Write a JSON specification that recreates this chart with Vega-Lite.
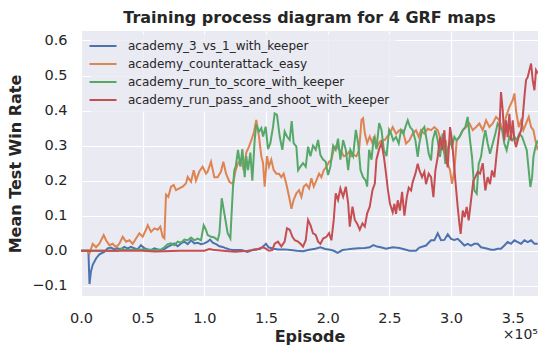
{
  "$schema": "https://vega.github.io/schema/vega-lite/v6.json",
  "width": 457,
  "height": 265,
  "autosize": {"type": "none"},
  "padding": {"left": 81, "top": 31, "right": 10, "bottom": 59},
  "background": "white",
  "config": {
    "font": "DejaVu Sans",
    "view": {"fill": "#EAEAF2", "stroke": null},
    "axis": {"domain": false, "ticks": false, "gridColor": "white", "gridWidth": 1.2, "labelColor": "#262626", "labelFontSize": 14.5, "titleColor": "#262626", "titleFontSize": 16, "titleFontWeight": "bold", "labelFont": "DejaVu Sans", "titleFont": "DejaVu Sans", "labelOverlap": false, "labelFlush": false}
  },
  "title": {"text": "Training process diagram for 4 GRF maps", "fontSize": 16, "fontWeight": "bold", "color": "#262626", "anchor": "middle", "offset": 5, "font": "DejaVu Sans"},
  "layer": [
    {
      "data": {"values": [
        {"map":"academy_3_vs_1_with_keeper","episode":0,"rate":0},{"map":"academy_3_vs_1_with_keeper","episode":6000,"rate":0},{"map":"academy_3_vs_1_with_keeper","episode":6900,"rate":-0.095},{"map":"academy_3_vs_1_with_keeper","episode":8000,"rate":-0.06},{"map":"academy_3_vs_1_with_keeper","episode":9500,"rate":-0.04},{"map":"academy_3_vs_1_with_keeper","episode":12200,"rate":-0.022},{"map":"academy_3_vs_1_with_keeper","episode":14900,"rate":-0.01},{"map":"academy_3_vs_1_with_keeper","episode":18900,"rate":-0.003},{"map":"academy_3_vs_1_with_keeper","episode":21600,"rate":0.007},{"map":"academy_3_vs_1_with_keeper","episode":24300,"rate":0.009},{"map":"academy_3_vs_1_with_keeper","episode":27000,"rate":0.004},{"map":"academy_3_vs_1_with_keeper","episode":29700,"rate":0.007},{"map":"academy_3_vs_1_with_keeper","episode":32400,"rate":0.004},{"map":"academy_3_vs_1_with_keeper","episode":35100,"rate":0.011},{"map":"academy_3_vs_1_with_keeper","episode":37800,"rate":0.007},{"map":"academy_3_vs_1_with_keeper","episode":40500,"rate":0.011},{"map":"academy_3_vs_1_with_keeper","episode":43200,"rate":0.007},{"map":"academy_3_vs_1_with_keeper","episode":45900,"rate":0.004},{"map":"academy_3_vs_1_with_keeper","episode":48600,"rate":0.016},{"map":"academy_3_vs_1_with_keeper","episode":51400,"rate":0.007},{"map":"academy_3_vs_1_with_keeper","episode":54100,"rate":0.004},{"map":"academy_3_vs_1_with_keeper","episode":56800,"rate":0.002},{"map":"academy_3_vs_1_with_keeper","episode":59500,"rate":0.007},{"map":"academy_3_vs_1_with_keeper","episode":62200,"rate":0.004},{"map":"academy_3_vs_1_with_keeper","episode":64900,"rate":0.002},{"map":"academy_3_vs_1_with_keeper","episode":67600,"rate":0.005},{"map":"academy_3_vs_1_with_keeper","episode":70300,"rate":0.011},{"map":"academy_3_vs_1_with_keeper","episode":73000,"rate":0.016},{"map":"academy_3_vs_1_with_keeper","episode":75700,"rate":0.021},{"map":"academy_3_vs_1_with_keeper","episode":78400,"rate":0.013},{"map":"academy_3_vs_1_with_keeper","episode":81100,"rate":0.021},{"map":"academy_3_vs_1_with_keeper","episode":83800,"rate":0.026},{"map":"academy_3_vs_1_with_keeper","episode":86500,"rate":0.019},{"map":"academy_3_vs_1_with_keeper","episode":89200,"rate":0.03},{"map":"academy_3_vs_1_with_keeper","episode":91900,"rate":0.021},{"map":"academy_3_vs_1_with_keeper","episode":94600,"rate":0.023},{"map":"academy_3_vs_1_with_keeper","episode":97300,"rate":0.019},{"map":"academy_3_vs_1_with_keeper","episode":100000,"rate":0.021},{"map":"academy_3_vs_1_with_keeper","episode":102700,"rate":0.026},{"map":"academy_3_vs_1_with_keeper","episode":104600,"rate":0.032},{"map":"academy_3_vs_1_with_keeper","episode":106800,"rate":0.023},{"map":"academy_3_vs_1_with_keeper","episode":109500,"rate":0.019},{"map":"academy_3_vs_1_with_keeper","episode":112200,"rate":0.013},{"map":"academy_3_vs_1_with_keeper","episode":114900,"rate":0.011},{"map":"academy_3_vs_1_with_keeper","episode":117600,"rate":0.007},{"map":"academy_3_vs_1_with_keeper","episode":120300,"rate":0.004},{"map":"academy_3_vs_1_with_keeper","episode":123000,"rate":0.002},{"map":"academy_3_vs_1_with_keeper","episode":125700,"rate":0.002},{"map":"academy_3_vs_1_with_keeper","episode":130000,"rate":0.002},{"map":"academy_3_vs_1_with_keeper","episode":135000,"rate":-0.003},{"map":"academy_3_vs_1_with_keeper","episode":140000,"rate":0.004},{"map":"academy_3_vs_1_with_keeper","episode":145000,"rate":0.005},{"map":"academy_3_vs_1_with_keeper","episode":147000,"rate":0.01},{"map":"academy_3_vs_1_with_keeper","episode":150000,"rate":0.02},{"map":"academy_3_vs_1_with_keeper","episode":152000,"rate":0.01},{"map":"academy_3_vs_1_with_keeper","episode":156000,"rate":0.006},{"map":"academy_3_vs_1_with_keeper","episode":160000,"rate":0.004},{"map":"academy_3_vs_1_with_keeper","episode":165000,"rate":0.004},{"map":"academy_3_vs_1_with_keeper","episode":170000,"rate":0.002},{"map":"academy_3_vs_1_with_keeper","episode":175000,"rate":0},{"map":"academy_3_vs_1_with_keeper","episode":180000,"rate":-0.001},{"map":"academy_3_vs_1_with_keeper","episode":185000,"rate":0.003},{"map":"academy_3_vs_1_with_keeper","episode":190000,"rate":0.006},{"map":"academy_3_vs_1_with_keeper","episode":194000,"rate":0.01},{"map":"academy_3_vs_1_with_keeper","episode":198000,"rate":0.005},{"map":"academy_3_vs_1_with_keeper","episode":202000,"rate":0.003},{"map":"academy_3_vs_1_with_keeper","episode":205000,"rate":0},{"map":"academy_3_vs_1_with_keeper","episode":208000,"rate":-0.006},{"map":"academy_3_vs_1_with_keeper","episode":212000,"rate":0.002},{"map":"academy_3_vs_1_with_keeper","episode":216000,"rate":0.004},{"map":"academy_3_vs_1_with_keeper","episode":220000,"rate":0.006},{"map":"academy_3_vs_1_with_keeper","episode":225000,"rate":0.007},{"map":"academy_3_vs_1_with_keeper","episode":230000,"rate":0.008},{"map":"academy_3_vs_1_with_keeper","episode":234000,"rate":0.01},{"map":"academy_3_vs_1_with_keeper","episode":237000,"rate":0.016},{"map":"academy_3_vs_1_with_keeper","episode":240000,"rate":0.012},{"map":"academy_3_vs_1_with_keeper","episode":243000,"rate":0.01},{"map":"academy_3_vs_1_with_keeper","episode":247300,"rate":0.006},{"map":"academy_3_vs_1_with_keeper","episode":252700,"rate":0.01},{"map":"academy_3_vs_1_with_keeper","episode":258100,"rate":0.008},{"map":"academy_3_vs_1_with_keeper","episode":263500,"rate":0.003},{"map":"academy_3_vs_1_with_keeper","episode":266200,"rate":0},{"map":"academy_3_vs_1_with_keeper","episode":271600,"rate":0},{"map":"academy_3_vs_1_with_keeper","episode":274300,"rate":0.009},{"map":"academy_3_vs_1_with_keeper","episode":279700,"rate":0.015},{"map":"academy_3_vs_1_with_keeper","episode":283800,"rate":0.03},{"map":"academy_3_vs_1_with_keeper","episode":286500,"rate":0.03},{"map":"academy_3_vs_1_with_keeper","episode":289200,"rate":0.05},{"map":"academy_3_vs_1_with_keeper","episode":291900,"rate":0.03},{"map":"academy_3_vs_1_with_keeper","episode":294600,"rate":0.031},{"map":"academy_3_vs_1_with_keeper","episode":297300,"rate":0.047},{"map":"academy_3_vs_1_with_keeper","episode":300000,"rate":0.034},{"map":"academy_3_vs_1_with_keeper","episode":302700,"rate":0.031},{"map":"academy_3_vs_1_with_keeper","episode":305400,"rate":0.034},{"map":"academy_3_vs_1_with_keeper","episode":308100,"rate":0.025},{"map":"academy_3_vs_1_with_keeper","episode":310800,"rate":0.015},{"map":"academy_3_vs_1_with_keeper","episode":313500,"rate":0.02},{"map":"academy_3_vs_1_with_keeper","episode":316200,"rate":0.015},{"map":"academy_3_vs_1_with_keeper","episode":318900,"rate":0.02},{"map":"academy_3_vs_1_with_keeper","episode":321600,"rate":0.02},{"map":"academy_3_vs_1_with_keeper","episode":324300,"rate":0.01},{"map":"academy_3_vs_1_with_keeper","episode":327000,"rate":0.008},{"map":"academy_3_vs_1_with_keeper","episode":329700,"rate":0.006},{"map":"academy_3_vs_1_with_keeper","episode":332400,"rate":0.003},{"map":"academy_3_vs_1_with_keeper","episode":335100,"rate":0.003},{"map":"academy_3_vs_1_with_keeper","episode":337800,"rate":0.006},{"map":"academy_3_vs_1_with_keeper","episode":340500,"rate":0.006},{"map":"academy_3_vs_1_with_keeper","episode":343200,"rate":0.015},{"map":"academy_3_vs_1_with_keeper","episode":345900,"rate":0.025},{"map":"academy_3_vs_1_with_keeper","episode":348600,"rate":0.02},{"map":"academy_3_vs_1_with_keeper","episode":351400,"rate":0.03},{"map":"academy_3_vs_1_with_keeper","episode":354100,"rate":0.025},{"map":"academy_3_vs_1_with_keeper","episode":356800,"rate":0.02},{"map":"academy_3_vs_1_with_keeper","episode":359500,"rate":0.03},{"map":"academy_3_vs_1_with_keeper","episode":362200,"rate":0.025},{"map":"academy_3_vs_1_with_keeper","episode":364900,"rate":0.03},{"map":"academy_3_vs_1_with_keeper","episode":367600,"rate":0.02},{"map":"academy_3_vs_1_with_keeper","episode":370300,"rate":0.02},

        {"map":"academy_counterattack_easy","episode":0,"rate":0},{"map":"academy_counterattack_easy","episode":5400,"rate":0},{"map":"academy_counterattack_easy","episode":6800,"rate":-0.008},{"map":"academy_counterattack_easy","episode":9500,"rate":0.02},{"map":"academy_counterattack_easy","episode":12200,"rate":0.01},{"map":"academy_counterattack_easy","episode":14900,"rate":0.02},{"map":"academy_counterattack_easy","episode":18400,"rate":0.045},{"map":"academy_counterattack_easy","episode":20300,"rate":0.03},{"map":"academy_counterattack_easy","episode":23000,"rate":0.016},{"map":"academy_counterattack_easy","episode":25700,"rate":0.02},{"map":"academy_counterattack_easy","episode":28400,"rate":0.01},{"map":"academy_counterattack_easy","episode":31100,"rate":0.02},{"map":"academy_counterattack_easy","episode":33800,"rate":0.04},{"map":"academy_counterattack_easy","episode":36500,"rate":0.026},{"map":"academy_counterattack_easy","episode":39200,"rate":0.03},{"map":"academy_counterattack_easy","episode":41900,"rate":0.02},{"map":"academy_counterattack_easy","episode":44600,"rate":0.035},{"map":"academy_counterattack_easy","episode":47300,"rate":0.05},{"map":"academy_counterattack_easy","episode":50000,"rate":0.04},{"map":"academy_counterattack_easy","episode":52700,"rate":0.06},{"map":"academy_counterattack_easy","episode":54100,"rate":0.073},{"map":"academy_counterattack_easy","episode":56800,"rate":0.054},{"map":"academy_counterattack_easy","episode":59500,"rate":0.064},{"map":"academy_counterattack_easy","episode":62200,"rate":0.06},{"map":"academy_counterattack_easy","episode":64300,"rate":0.069},{"map":"academy_counterattack_easy","episode":66200,"rate":0.04},{"map":"academy_counterattack_easy","episode":67600,"rate":0.035},{"map":"academy_counterattack_easy","episode":68900,"rate":0.16},{"map":"academy_counterattack_easy","episode":70800,"rate":0.154},{"map":"academy_counterattack_easy","episode":73000,"rate":0.183},{"map":"academy_counterattack_easy","episode":75100,"rate":0.188},{"map":"academy_counterattack_easy","episode":77000,"rate":0.173},{"map":"academy_counterattack_easy","episode":79700,"rate":0.178},{"map":"academy_counterattack_easy","episode":82400,"rate":0.183},{"map":"academy_counterattack_easy","episode":85100,"rate":0.192},{"map":"academy_counterattack_easy","episode":86500,"rate":0.211},{"map":"academy_counterattack_easy","episode":89200,"rate":0.197},{"map":"academy_counterattack_easy","episode":91400,"rate":0.23},{"map":"academy_counterattack_easy","episode":93200,"rate":0.2},{"map":"academy_counterattack_easy","episode":95900,"rate":0.226},{"map":"academy_counterattack_easy","episode":98600,"rate":0.24},{"map":"academy_counterattack_easy","episode":101400,"rate":0.22},{"map":"academy_counterattack_easy","episode":102700,"rate":0.226},{"map":"academy_counterattack_easy","episode":105400,"rate":0.254},{"map":"academy_counterattack_easy","episode":108100,"rate":0.21},{"map":"academy_counterattack_easy","episode":110800,"rate":0.21},{"map":"academy_counterattack_easy","episode":113500,"rate":0.226},{"map":"academy_counterattack_easy","episode":115400,"rate":0.254},{"map":"academy_counterattack_easy","episode":117600,"rate":0.22},{"map":"academy_counterattack_easy","episode":120300,"rate":0.197},{"map":"academy_counterattack_easy","episode":123200,"rate":0.19},{"map":"academy_counterattack_easy","episode":125400,"rate":0.23},{"map":"academy_counterattack_easy","episode":127300,"rate":0.25},{"map":"academy_counterattack_easy","episode":130000,"rate":0.26},{"map":"academy_counterattack_easy","episode":131900,"rate":0.23},{"map":"academy_counterattack_easy","episode":134000,"rate":0.28},{"map":"academy_counterattack_easy","episode":136200,"rate":0.297},{"map":"academy_counterattack_easy","episode":138100,"rate":0.316},{"map":"academy_counterattack_easy","episode":140000,"rate":0.335},{"map":"academy_counterattack_easy","episode":142100,"rate":0.373},{"map":"academy_counterattack_easy","episode":144300,"rate":0.326},{"map":"academy_counterattack_easy","episode":146200,"rate":0.27},{"map":"academy_counterattack_easy","episode":147600,"rate":0.25},{"map":"academy_counterattack_easy","episode":148900,"rate":0.183},{"map":"academy_counterattack_easy","episode":150800,"rate":0.27},{"map":"academy_counterattack_easy","episode":152400,"rate":0.24},{"map":"academy_counterattack_easy","episode":154300,"rate":0.26},{"map":"academy_counterattack_easy","episode":156200,"rate":0.23},{"map":"academy_counterattack_easy","episode":158400,"rate":0.22},{"map":"academy_counterattack_easy","episode":160500,"rate":0.22},{"map":"academy_counterattack_easy","episode":162400,"rate":0.21},{"map":"academy_counterattack_easy","episode":164300,"rate":0.22},{"map":"academy_counterattack_easy","episode":166500,"rate":0.19},{"map":"academy_counterattack_easy","episode":168700,"rate":0.154},{"map":"academy_counterattack_easy","episode":170600,"rate":0.12},{"map":"academy_counterattack_easy","episode":172400,"rate":0.145},{"map":"academy_counterattack_easy","episode":174600,"rate":0.164},{"map":"academy_counterattack_easy","episode":176800,"rate":0.173},{"map":"academy_counterattack_easy","episode":178700,"rate":0.154},{"map":"academy_counterattack_easy","episode":180600,"rate":0.183},{"map":"academy_counterattack_easy","episode":182700,"rate":0.19},{"map":"academy_counterattack_easy","episode":184900,"rate":0.178},{"map":"academy_counterattack_easy","episode":186800,"rate":0.207},{"map":"academy_counterattack_easy","episode":188700,"rate":0.183},{"map":"academy_counterattack_easy","episode":190800,"rate":0.2},{"map":"academy_counterattack_easy","episode":193000,"rate":0.22},{"map":"academy_counterattack_easy","episode":194900,"rate":0.21},{"map":"academy_counterattack_easy","episode":196800,"rate":0.23},{"map":"academy_counterattack_easy","episode":199000,"rate":0.24},{"map":"academy_counterattack_easy","episode":201100,"rate":0.254},{"map":"academy_counterattack_easy","episode":203000,"rate":0.26},{"map":"academy_counterattack_easy","episode":204900,"rate":0.288},{"map":"academy_counterattack_easy","episode":207100,"rate":0.3},{"map":"academy_counterattack_easy","episode":209200,"rate":0.288},{"map":"academy_counterattack_easy","episode":211100,"rate":0.283},{"map":"academy_counterattack_easy","episode":213000,"rate":0.27},{"map":"academy_counterattack_easy","episode":215200,"rate":0.273},{"map":"academy_counterattack_easy","episode":217400,"rate":0.283},{"map":"academy_counterattack_easy","episode":219300,"rate":0.27},{"map":"academy_counterattack_easy","episode":221200,"rate":0.273},{"map":"academy_counterattack_easy","episode":223300,"rate":0.27},{"map":"academy_counterattack_easy","episode":225500,"rate":0.288},{"map":"academy_counterattack_easy","episode":227400,"rate":0.373},{"map":"academy_counterattack_easy","episode":228700,"rate":0.378},{"map":"academy_counterattack_easy","episode":230100,"rate":0.335},{"map":"academy_counterattack_easy","episode":232000,"rate":0.307},{"map":"academy_counterattack_easy","episode":234100,"rate":0.326},{"map":"academy_counterattack_easy","episode":236300,"rate":0.307},{"map":"academy_counterattack_easy","episode":238200,"rate":0.326},{"map":"academy_counterattack_easy","episode":240100,"rate":0.297},{"map":"academy_counterattack_easy","episode":242300,"rate":0.311},{"map":"academy_counterattack_easy","episode":244400,"rate":0.316},{"map":"academy_counterattack_easy","episode":246300,"rate":0.316},{"map":"academy_counterattack_easy","episode":248200,"rate":0.326},{"map":"academy_counterattack_easy","episode":250400,"rate":0.335},{"map":"academy_counterattack_easy","episode":252700,"rate":0.353},{"map":"academy_counterattack_easy","episode":255400,"rate":0.334},{"map":"academy_counterattack_easy","episode":258100,"rate":0.344},{"map":"academy_counterattack_easy","episode":260800,"rate":0.344},{"map":"academy_counterattack_easy","episode":263500,"rate":0.306},{"map":"academy_counterattack_easy","episode":266200,"rate":0.315},{"map":"academy_counterattack_easy","episode":268900,"rate":0.334},{"map":"academy_counterattack_easy","episode":271600,"rate":0.344},{"map":"academy_counterattack_easy","episode":273800,"rate":0.325},{"map":"academy_counterattack_easy","episode":275700,"rate":0.344},{"map":"academy_counterattack_easy","episode":278400,"rate":0.334},{"map":"academy_counterattack_easy","episode":281100,"rate":0.348},{"map":"academy_counterattack_easy","episode":283800,"rate":0.344},{"map":"academy_counterattack_easy","episode":286500,"rate":0.353},{"map":"academy_counterattack_easy","episode":289200,"rate":0.344},{"map":"academy_counterattack_easy","episode":291900,"rate":0.315},{"map":"academy_counterattack_easy","episode":294600,"rate":0.277},{"map":"academy_counterattack_easy","episode":295900,"rate":0.315},{"map":"academy_counterattack_easy","episode":297300,"rate":0.248},{"map":"academy_counterattack_easy","episode":299200,"rate":0.23},{"map":"academy_counterattack_easy","episode":300800,"rate":0.191},{"map":"academy_counterattack_easy","episode":302700,"rate":0.23},{"map":"academy_counterattack_easy","episode":304600,"rate":0.315},{"map":"academy_counterattack_easy","episode":306800,"rate":0.325},{"map":"academy_counterattack_easy","episode":309500,"rate":0.344},{"map":"academy_counterattack_easy","episode":312200,"rate":0.353},{"map":"academy_counterattack_easy","episode":314900,"rate":0.363},{"map":"academy_counterattack_easy","episode":317600,"rate":0.344},{"map":"academy_counterattack_easy","episode":320300,"rate":0.353},{"map":"academy_counterattack_easy","episode":323000,"rate":0.363},{"map":"academy_counterattack_easy","episode":325700,"rate":0.344},{"map":"academy_counterattack_easy","episode":328400,"rate":0.372},{"map":"academy_counterattack_easy","episode":331100,"rate":0.353},{"map":"academy_counterattack_easy","episode":333800,"rate":0.363},{"map":"academy_counterattack_easy","episode":336500,"rate":0.382},{"map":"academy_counterattack_easy","episode":339200,"rate":0.372},{"map":"academy_counterattack_easy","episode":341900,"rate":0.344},{"map":"academy_counterattack_easy","episode":344600,"rate":0.382},{"map":"academy_counterattack_easy","episode":347300,"rate":0.41},{"map":"academy_counterattack_easy","episode":350000,"rate":0.43},{"map":"academy_counterattack_easy","episode":351400,"rate":0.449},{"map":"academy_counterattack_easy","episode":352700,"rate":0.4},{"map":"academy_counterattack_easy","episode":354900,"rate":0.353},{"map":"academy_counterattack_easy","episode":356800,"rate":0.372},{"map":"academy_counterattack_easy","episode":358600,"rate":0.344},{"map":"academy_counterattack_easy","episode":360800,"rate":0.363},{"map":"academy_counterattack_easy","episode":363000,"rate":0.382},{"map":"academy_counterattack_easy","episode":364900,"rate":0.353},{"map":"academy_counterattack_easy","episode":366800,"rate":0.344},{"map":"academy_counterattack_easy","episode":368400,"rate":0.315},{"map":"academy_counterattack_easy","episode":370300,"rate":0.287},

        {"map":"academy_run_to_score_with_keeper","episode":0,"rate":0},{"map":"academy_run_to_score_with_keeper","episode":30000,"rate":0},{"map":"academy_run_to_score_with_keeper","episode":32400,"rate":0.006},{"map":"academy_run_to_score_with_keeper","episode":36000,"rate":0.002},{"map":"academy_run_to_score_with_keeper","episode":40000,"rate":0.003},{"map":"academy_run_to_score_with_keeper","episode":50000,"rate":0.004},{"map":"academy_run_to_score_with_keeper","episode":60000,"rate":0.002},{"map":"academy_run_to_score_with_keeper","episode":65000,"rate":0.004},{"map":"academy_run_to_score_with_keeper","episode":67600,"rate":0.01},{"map":"academy_run_to_score_with_keeper","episode":70300,"rate":0.019},{"map":"academy_run_to_score_with_keeper","episode":73000,"rate":0.021},{"map":"academy_run_to_score_with_keeper","episode":75700,"rate":0.016},{"map":"academy_run_to_score_with_keeper","episode":78400,"rate":0.026},{"map":"academy_run_to_score_with_keeper","episode":81100,"rate":0.023},{"map":"academy_run_to_score_with_keeper","episode":83800,"rate":0.032},{"map":"academy_run_to_score_with_keeper","episode":86500,"rate":0.03},{"map":"academy_run_to_score_with_keeper","episode":89200,"rate":0.038},{"map":"academy_run_to_score_with_keeper","episode":91900,"rate":0.03},{"map":"academy_run_to_score_with_keeper","episode":94600,"rate":0.035},{"map":"academy_run_to_score_with_keeper","episode":97300,"rate":0.03},{"map":"academy_run_to_score_with_keeper","episode":99500,"rate":0.073},{"map":"academy_run_to_score_with_keeper","episode":101400,"rate":0.059},{"map":"academy_run_to_score_with_keeper","episode":102700,"rate":0.045},{"map":"academy_run_to_score_with_keeper","episode":105400,"rate":0.04},{"map":"academy_run_to_score_with_keeper","episode":108100,"rate":0.038},{"map":"academy_run_to_score_with_keeper","episode":110800,"rate":0.03},{"map":"academy_run_to_score_with_keeper","episode":112200,"rate":0.05},{"map":"academy_run_to_score_with_keeper","episode":114100,"rate":0.15},{"map":"academy_run_to_score_with_keeper","episode":116200,"rate":0.107},{"map":"academy_run_to_score_with_keeper","episode":118900,"rate":0.05},{"map":"academy_run_to_score_with_keeper","episode":121100,"rate":0.035},{"map":"academy_run_to_score_with_keeper","episode":122000,"rate":0.1},{"map":"academy_run_to_score_with_keeper","episode":123200,"rate":0.18},{"map":"academy_run_to_score_with_keeper","episode":124300,"rate":0.23},{"map":"academy_run_to_score_with_keeper","episode":125400,"rate":0.24},{"map":"academy_run_to_score_with_keeper","episode":127300,"rate":0.288},{"map":"academy_run_to_score_with_keeper","episode":129200,"rate":0.24},{"map":"academy_run_to_score_with_keeper","episode":130800,"rate":0.29},{"map":"academy_run_to_score_with_keeper","episode":132700,"rate":0.21},{"map":"academy_run_to_score_with_keeper","episode":134000,"rate":0.27},{"map":"academy_run_to_score_with_keeper","episode":135400,"rate":0.23},{"map":"academy_run_to_score_with_keeper","episode":137300,"rate":0.28},{"map":"academy_run_to_score_with_keeper","episode":138900,"rate":0.2},{"map":"academy_run_to_score_with_keeper","episode":140800,"rate":0.316},{"map":"academy_run_to_score_with_keeper","episode":142100,"rate":0.36},{"map":"academy_run_to_score_with_keeper","episode":144300,"rate":0.34},{"map":"academy_run_to_score_with_keeper","episode":146200,"rate":0.35},{"map":"academy_run_to_score_with_keeper","episode":147600,"rate":0.326},{"map":"academy_run_to_score_with_keeper","episode":149700,"rate":0.354},{"map":"academy_run_to_score_with_keeper","episode":151600,"rate":0.29},{"map":"academy_run_to_score_with_keeper","episode":153500,"rate":0.307},{"map":"academy_run_to_score_with_keeper","episode":155700,"rate":0.354},{"map":"academy_run_to_score_with_keeper","episode":157000,"rate":0.392},{"map":"academy_run_to_score_with_keeper","episode":158900,"rate":0.388},{"map":"academy_run_to_score_with_keeper","episode":161100,"rate":0.326},{"map":"academy_run_to_score_with_keeper","episode":163200,"rate":0.288},{"map":"academy_run_to_score_with_keeper","episode":165100,"rate":0.34},{"map":"academy_run_to_score_with_keeper","episode":167000,"rate":0.326},{"map":"academy_run_to_score_with_keeper","episode":169200,"rate":0.316},{"map":"academy_run_to_score_with_keeper","episode":170800,"rate":0.37},{"map":"academy_run_to_score_with_keeper","episode":172400,"rate":0.307},{"map":"academy_run_to_score_with_keeper","episode":174600,"rate":0.297},{"map":"academy_run_to_score_with_keeper","episode":176000,"rate":0.23},{"map":"academy_run_to_score_with_keeper","episode":177900,"rate":0.24},{"map":"academy_run_to_score_with_keeper","episode":180000,"rate":0.25},{"map":"academy_run_to_score_with_keeper","episode":182200,"rate":0.24},{"map":"academy_run_to_score_with_keeper","episode":184100,"rate":0.297},{"map":"academy_run_to_score_with_keeper","episode":186000,"rate":0.27},{"map":"academy_run_to_score_with_keeper","episode":188100,"rate":0.3},{"map":"academy_run_to_score_with_keeper","episode":190300,"rate":0.288},{"map":"academy_run_to_score_with_keeper","episode":192200,"rate":0.316},{"map":"academy_run_to_score_with_keeper","episode":194100,"rate":0.273},{"map":"academy_run_to_score_with_keeper","episode":196300,"rate":0.26},{"map":"academy_run_to_score_with_keeper","episode":198400,"rate":0.254},{"map":"academy_run_to_score_with_keeper","episode":200300,"rate":0.216},{"map":"academy_run_to_score_with_keeper","episode":202200,"rate":0.24},{"map":"academy_run_to_score_with_keeper","episode":204400,"rate":0.3},{"map":"academy_run_to_score_with_keeper","episode":206500,"rate":0.288},{"map":"academy_run_to_score_with_keeper","episode":208400,"rate":0.32},{"map":"academy_run_to_score_with_keeper","episode":210300,"rate":0.26},{"map":"academy_run_to_score_with_keeper","episode":212500,"rate":0.316},{"map":"academy_run_to_score_with_keeper","episode":214700,"rate":0.288},{"map":"academy_run_to_score_with_keeper","episode":216600,"rate":0.23},{"map":"academy_run_to_score_with_keeper","episode":218400,"rate":0.288},{"map":"academy_run_to_score_with_keeper","episode":220600,"rate":0.27},{"map":"academy_run_to_score_with_keeper","episode":222800,"rate":0.345},{"map":"academy_run_to_score_with_keeper","episode":224700,"rate":0.307},{"map":"academy_run_to_score_with_keeper","episode":226600,"rate":0.23},{"map":"academy_run_to_score_with_keeper","episode":228700,"rate":0.21},{"map":"academy_run_to_score_with_keeper","episode":230900,"rate":0.2},{"map":"academy_run_to_score_with_keeper","episode":232000,"rate":0.183},{"map":"academy_run_to_score_with_keeper","episode":233600,"rate":0.288},{"map":"academy_run_to_score_with_keeper","episode":235500,"rate":0.26},{"map":"academy_run_to_score_with_keeper","episode":237400,"rate":0.326},{"map":"academy_run_to_score_with_keeper","episode":239500,"rate":0.29},{"map":"academy_run_to_score_with_keeper","episode":241700,"rate":0.364},{"map":"academy_run_to_score_with_keeper","episode":243600,"rate":0.345},{"map":"academy_run_to_score_with_keeper","episode":245500,"rate":0.288},{"map":"academy_run_to_score_with_keeper","episode":247700,"rate":0.27},{"map":"academy_run_to_score_with_keeper","episode":249800,"rate":0.345},{"map":"academy_run_to_score_with_keeper","episode":251400,"rate":0.334},{"map":"academy_run_to_score_with_keeper","episode":253200,"rate":0.315},{"map":"academy_run_to_score_with_keeper","episode":255400,"rate":0.325},{"map":"academy_run_to_score_with_keeper","episode":257600,"rate":0.306},{"map":"academy_run_to_score_with_keeper","episode":259500,"rate":0.344},{"map":"academy_run_to_score_with_keeper","episode":261400,"rate":0.334},{"map":"academy_run_to_score_with_keeper","episode":263000,"rate":0.353},{"map":"academy_run_to_score_with_keeper","episode":264900,"rate":0.372},{"map":"academy_run_to_score_with_keeper","episode":266800,"rate":0.353},{"map":"academy_run_to_score_with_keeper","episode":268900,"rate":0.344},{"map":"academy_run_to_score_with_keeper","episode":271100,"rate":0.315},{"map":"academy_run_to_score_with_keeper","episode":273000,"rate":0.268},{"map":"academy_run_to_score_with_keeper","episode":274300,"rate":0.306},{"map":"academy_run_to_score_with_keeper","episode":276500,"rate":0.344},{"map":"academy_run_to_score_with_keeper","episode":278400,"rate":0.353},{"map":"academy_run_to_score_with_keeper","episode":280300,"rate":0.315},{"map":"academy_run_to_score_with_keeper","episode":281900,"rate":0.277},{"map":"academy_run_to_score_with_keeper","episode":283800,"rate":0.258},{"map":"academy_run_to_score_with_keeper","episode":285100,"rate":0.315},{"map":"academy_run_to_score_with_keeper","episode":287300,"rate":0.344},{"map":"academy_run_to_score_with_keeper","episode":289200,"rate":0.315},{"map":"academy_run_to_score_with_keeper","episode":291100,"rate":0.268},{"map":"academy_run_to_score_with_keeper","episode":293200,"rate":0.334},{"map":"academy_run_to_score_with_keeper","episode":295400,"rate":0.248},{"map":"academy_run_to_score_with_keeper","episode":297300,"rate":0.287},{"map":"academy_run_to_score_with_keeper","episode":299200,"rate":0.315},{"map":"academy_run_to_score_with_keeper","episode":300800,"rate":0.296},{"map":"academy_run_to_score_with_keeper","episode":302700,"rate":0.325},{"map":"academy_run_to_score_with_keeper","episode":304600,"rate":0.315},{"map":"academy_run_to_score_with_keeper","episode":306800,"rate":0.325},{"map":"academy_run_to_score_with_keeper","episode":309500,"rate":0.344},{"map":"academy_run_to_score_with_keeper","episode":311600,"rate":0.353},{"map":"academy_run_to_score_with_keeper","episode":313500,"rate":0.382},{"map":"academy_run_to_score_with_keeper","episode":315400,"rate":0.315},{"map":"academy_run_to_score_with_keeper","episode":317000,"rate":0.268},{"map":"academy_run_to_score_with_keeper","episode":318900,"rate":0.172},{"map":"academy_run_to_score_with_keeper","episode":320800,"rate":0.163},{"map":"academy_run_to_score_with_keeper","episode":322400,"rate":0.248},{"map":"academy_run_to_score_with_keeper","episode":324300,"rate":0.268},{"map":"academy_run_to_score_with_keeper","episode":326200,"rate":0.315},{"map":"academy_run_to_score_with_keeper","episode":327800,"rate":0.344},{"map":"academy_run_to_score_with_keeper","episode":329700,"rate":0.306},{"map":"academy_run_to_score_with_keeper","episode":331600,"rate":0.277},{"map":"academy_run_to_score_with_keeper","episode":333800,"rate":0.306},{"map":"academy_run_to_score_with_keeper","episode":335900,"rate":0.334},{"map":"academy_run_to_score_with_keeper","episode":337800,"rate":0.363},{"map":"academy_run_to_score_with_keeper","episode":339700,"rate":0.353},{"map":"academy_run_to_score_with_keeper","episode":341400,"rate":0.344},{"map":"academy_run_to_score_with_keeper","episode":343200,"rate":0.306},{"map":"academy_run_to_score_with_keeper","episode":345100,"rate":0.287},{"map":"academy_run_to_score_with_keeper","episode":347300,"rate":0.325},{"map":"academy_run_to_score_with_keeper","episode":349500,"rate":0.315},{"map":"academy_run_to_score_with_keeper","episode":351400,"rate":0.325},{"map":"academy_run_to_score_with_keeper","episode":353200,"rate":0.315},{"map":"academy_run_to_score_with_keeper","episode":355400,"rate":0.334},{"map":"academy_run_to_score_with_keeper","episode":357600,"rate":0.325},{"map":"academy_run_to_score_with_keeper","episode":359500,"rate":0.306},{"map":"academy_run_to_score_with_keeper","episode":361400,"rate":0.287},{"map":"academy_run_to_score_with_keeper","episode":363000,"rate":0.229},{"map":"academy_run_to_score_with_keeper","episode":364300,"rate":0.182},{"map":"academy_run_to_score_with_keeper","episode":365700,"rate":0.21},{"map":"academy_run_to_score_with_keeper","episode":366800,"rate":0.268},{"map":"academy_run_to_score_with_keeper","episode":368400,"rate":0.296},{"map":"academy_run_to_score_with_keeper","episode":370300,"rate":0.315},

        {"map":"academy_run_pass_and_shoot_with_keeper","episode":0,"rate":0},{"map":"academy_run_pass_and_shoot_with_keeper","episode":20000,"rate":0},{"map":"academy_run_pass_and_shoot_with_keeper","episode":50000,"rate":0},{"map":"academy_run_pass_and_shoot_with_keeper","episode":60000,"rate":-0.002},{"map":"academy_run_pass_and_shoot_with_keeper","episode":80000,"rate":0},{"map":"academy_run_pass_and_shoot_with_keeper","episode":100000,"rate":0},{"map":"academy_run_pass_and_shoot_with_keeper","episode":104000,"rate":0.005},{"map":"academy_run_pass_and_shoot_with_keeper","episode":107000,"rate":0.003},{"map":"academy_run_pass_and_shoot_with_keeper","episode":115000,"rate":0},{"map":"academy_run_pass_and_shoot_with_keeper","episode":125000,"rate":-0.003},{"map":"academy_run_pass_and_shoot_with_keeper","episode":135000,"rate":0},{"map":"academy_run_pass_and_shoot_with_keeper","episode":142000,"rate":0.003},{"map":"academy_run_pass_and_shoot_with_keeper","episode":147000,"rate":0.01},{"map":"academy_run_pass_and_shoot_with_keeper","episode":149600,"rate":0.007},{"map":"academy_run_pass_and_shoot_with_keeper","episode":152300,"rate":0},{"map":"academy_run_pass_and_shoot_with_keeper","episode":155000,"rate":0.002},{"map":"academy_run_pass_and_shoot_with_keeper","episode":157000,"rate":0.02},{"map":"academy_run_pass_and_shoot_with_keeper","episode":159700,"rate":0.026},{"map":"academy_run_pass_and_shoot_with_keeper","episode":162400,"rate":0.012},{"map":"academy_run_pass_and_shoot_with_keeper","episode":165100,"rate":0.026},{"map":"academy_run_pass_and_shoot_with_keeper","episode":167000,"rate":0.064},{"map":"academy_run_pass_and_shoot_with_keeper","episode":169200,"rate":0.06},{"map":"academy_run_pass_and_shoot_with_keeper","episode":171400,"rate":0.04},{"map":"academy_run_pass_and_shoot_with_keeper","episode":173300,"rate":0.03},{"map":"academy_run_pass_and_shoot_with_keeper","episode":176000,"rate":0.026},{"map":"academy_run_pass_and_shoot_with_keeper","episode":177900,"rate":0.02},{"map":"academy_run_pass_and_shoot_with_keeper","episode":180000,"rate":0.012},{"map":"academy_run_pass_and_shoot_with_keeper","episode":182200,"rate":0.03},{"map":"academy_run_pass_and_shoot_with_keeper","episode":184100,"rate":0.088},{"map":"academy_run_pass_and_shoot_with_keeper","episode":186000,"rate":0.073},{"map":"academy_run_pass_and_shoot_with_keeper","episode":188100,"rate":0.05},{"map":"academy_run_pass_and_shoot_with_keeper","episode":190300,"rate":0.045},{"map":"academy_run_pass_and_shoot_with_keeper","episode":192200,"rate":0.026},{"map":"academy_run_pass_and_shoot_with_keeper","episode":194100,"rate":0.02},{"map":"academy_run_pass_and_shoot_with_keeper","episode":196300,"rate":0.035},{"map":"academy_run_pass_and_shoot_with_keeper","episode":199000,"rate":0.04},{"map":"academy_run_pass_and_shoot_with_keeper","episode":201100,"rate":0.05},{"map":"academy_run_pass_and_shoot_with_keeper","episode":203000,"rate":0.03},{"map":"academy_run_pass_and_shoot_with_keeper","episode":204900,"rate":0.088},{"map":"academy_run_pass_and_shoot_with_keeper","episode":206500,"rate":0.164},{"map":"academy_run_pass_and_shoot_with_keeper","episode":208400,"rate":0.145},{"map":"academy_run_pass_and_shoot_with_keeper","episode":210300,"rate":0.178},{"map":"academy_run_pass_and_shoot_with_keeper","episode":212500,"rate":0.154},{"map":"academy_run_pass_and_shoot_with_keeper","episode":214700,"rate":0.183},{"map":"academy_run_pass_and_shoot_with_keeper","episode":216600,"rate":0.135},{"map":"academy_run_pass_and_shoot_with_keeper","episode":217900,"rate":0.069},{"map":"academy_run_pass_and_shoot_with_keeper","episode":220100,"rate":0.126},{"map":"academy_run_pass_and_shoot_with_keeper","episode":222000,"rate":0.088},{"map":"academy_run_pass_and_shoot_with_keeper","episode":223800,"rate":0.078},{"map":"academy_run_pass_and_shoot_with_keeper","episode":226000,"rate":0.06},{"map":"academy_run_pass_and_shoot_with_keeper","episode":228200,"rate":0.078},{"map":"academy_run_pass_and_shoot_with_keeper","episode":230100,"rate":0.069},{"map":"academy_run_pass_and_shoot_with_keeper","episode":232000,"rate":0.107},{"map":"academy_run_pass_and_shoot_with_keeper","episode":234100,"rate":0.126},{"map":"academy_run_pass_and_shoot_with_keeper","episode":236300,"rate":0.173},{"map":"academy_run_pass_and_shoot_with_keeper","episode":238200,"rate":0.192},{"map":"academy_run_pass_and_shoot_with_keeper","episode":239500,"rate":0.26},{"map":"academy_run_pass_and_shoot_with_keeper","episode":241700,"rate":0.29},{"map":"academy_run_pass_and_shoot_with_keeper","episode":243600,"rate":0.307},{"map":"academy_run_pass_and_shoot_with_keeper","episode":245500,"rate":0.27},{"map":"academy_run_pass_and_shoot_with_keeper","episode":247300,"rate":0.22},{"map":"academy_run_pass_and_shoot_with_keeper","episode":248600,"rate":0.18},{"map":"academy_run_pass_and_shoot_with_keeper","episode":250500,"rate":0.134},{"map":"academy_run_pass_and_shoot_with_keeper","episode":252700,"rate":0.11},{"map":"academy_run_pass_and_shoot_with_keeper","episode":254100,"rate":0.134},{"map":"academy_run_pass_and_shoot_with_keeper","episode":255400,"rate":0.105},{"map":"academy_run_pass_and_shoot_with_keeper","episode":256800,"rate":0.144},{"map":"academy_run_pass_and_shoot_with_keeper","episode":258600,"rate":0.115},{"map":"academy_run_pass_and_shoot_with_keeper","episode":260300,"rate":0.168},{"map":"academy_run_pass_and_shoot_with_keeper","episode":262200,"rate":0.1},{"map":"academy_run_pass_and_shoot_with_keeper","episode":264100,"rate":0.153},{"map":"academy_run_pass_and_shoot_with_keeper","episode":265700,"rate":0.18},{"map":"academy_run_pass_and_shoot_with_keeper","episode":267600,"rate":0.172},{"map":"academy_run_pass_and_shoot_with_keeper","episode":268900,"rate":0.196},{"map":"academy_run_pass_and_shoot_with_keeper","episode":271100,"rate":0.22},{"map":"academy_run_pass_and_shoot_with_keeper","episode":273000,"rate":0.248},{"map":"academy_run_pass_and_shoot_with_keeper","episode":274300,"rate":0.23},{"map":"academy_run_pass_and_shoot_with_keeper","episode":276500,"rate":0.21},{"map":"academy_run_pass_and_shoot_with_keeper","episode":278400,"rate":0.225},{"map":"academy_run_pass_and_shoot_with_keeper","episode":279700,"rate":0.19},{"map":"academy_run_pass_and_shoot_with_keeper","episode":281900,"rate":0.22},{"map":"academy_run_pass_and_shoot_with_keeper","episode":283800,"rate":0.21},{"map":"academy_run_pass_and_shoot_with_keeper","episode":285700,"rate":0.153},{"map":"academy_run_pass_and_shoot_with_keeper","episode":287300,"rate":0.229},{"map":"academy_run_pass_and_shoot_with_keeper","episode":289200,"rate":0.268},{"map":"academy_run_pass_and_shoot_with_keeper","episode":291100,"rate":0.325},{"map":"academy_run_pass_and_shoot_with_keeper","episode":292700,"rate":0.287},{"map":"academy_run_pass_and_shoot_with_keeper","episode":294600,"rate":0.344},{"map":"academy_run_pass_and_shoot_with_keeper","episode":295900,"rate":0.268},{"map":"academy_run_pass_and_shoot_with_keeper","episode":297300,"rate":0.238},{"map":"academy_run_pass_and_shoot_with_keeper","episode":299200,"rate":0.353},{"map":"academy_run_pass_and_shoot_with_keeper","episode":300800,"rate":0.315},{"map":"academy_run_pass_and_shoot_with_keeper","episode":301900,"rate":0.268},{"map":"academy_run_pass_and_shoot_with_keeper","episode":303500,"rate":0.2},{"map":"academy_run_pass_and_shoot_with_keeper","episode":305400,"rate":0.125},{"map":"academy_run_pass_and_shoot_with_keeper","episode":306800,"rate":0.077},{"map":"academy_run_pass_and_shoot_with_keeper","episode":307800,"rate":0.048},{"map":"academy_run_pass_and_shoot_with_keeper","episode":309500,"rate":0.115},{"map":"academy_run_pass_and_shoot_with_keeper","episode":311100,"rate":0.096},{"map":"academy_run_pass_and_shoot_with_keeper","episode":312700,"rate":0.125},{"map":"academy_run_pass_and_shoot_with_keeper","episode":314300,"rate":0.087},{"map":"academy_run_pass_and_shoot_with_keeper","episode":316200,"rate":0.144},{"map":"academy_run_pass_and_shoot_with_keeper","episode":318100,"rate":0.2},{"map":"academy_run_pass_and_shoot_with_keeper","episode":319700,"rate":0.21},{"map":"academy_run_pass_and_shoot_with_keeper","episode":321600,"rate":0.225},{"map":"academy_run_pass_and_shoot_with_keeper","episode":323500,"rate":0.22},{"map":"academy_run_pass_and_shoot_with_keeper","episode":325700,"rate":0.25},{"map":"academy_run_pass_and_shoot_with_keeper","episode":327800,"rate":0.172},{"map":"academy_run_pass_and_shoot_with_keeper","episode":329700,"rate":0.21},{"map":"academy_run_pass_and_shoot_with_keeper","episode":331600,"rate":0.19},{"map":"academy_run_pass_and_shoot_with_keeper","episode":333200,"rate":0.229},{"map":"academy_run_pass_and_shoot_with_keeper","episode":335100,"rate":0.21},{"map":"academy_run_pass_and_shoot_with_keeper","episode":337000,"rate":0.277},{"map":"academy_run_pass_and_shoot_with_keeper","episode":339200,"rate":0.344},{"map":"academy_run_pass_and_shoot_with_keeper","episode":340500,"rate":0.453},{"map":"academy_run_pass_and_shoot_with_keeper","episode":341900,"rate":0.401},{"map":"academy_run_pass_and_shoot_with_keeper","episode":343200,"rate":0.315},{"map":"academy_run_pass_and_shoot_with_keeper","episode":344600,"rate":0.372},{"map":"academy_run_pass_and_shoot_with_keeper","episode":345900,"rate":0.324},{"map":"academy_run_pass_and_shoot_with_keeper","episode":347300,"rate":0.391},{"map":"academy_run_pass_and_shoot_with_keeper","episode":348600,"rate":0.315},{"map":"academy_run_pass_and_shoot_with_keeper","episode":350000,"rate":0.372},{"map":"academy_run_pass_and_shoot_with_keeper","episode":351400,"rate":0.315},{"map":"academy_run_pass_and_shoot_with_keeper","episode":352700,"rate":0.296},{"map":"academy_run_pass_and_shoot_with_keeper","episode":354900,"rate":0.325},{"map":"academy_run_pass_and_shoot_with_keeper","episode":356800,"rate":0.344},{"map":"academy_run_pass_and_shoot_with_keeper","episode":358100,"rate":0.38},{"map":"academy_run_pass_and_shoot_with_keeper","episode":359500,"rate":0.44},{"map":"academy_run_pass_and_shoot_with_keeper","episode":360800,"rate":0.487},{"map":"academy_run_pass_and_shoot_with_keeper","episode":362200,"rate":0.496},{"map":"academy_run_pass_and_shoot_with_keeper","episode":363500,"rate":0.515},{"map":"academy_run_pass_and_shoot_with_keeper","episode":364900,"rate":0.534},{"map":"academy_run_pass_and_shoot_with_keeper","episode":366200,"rate":0.487},{"map":"academy_run_pass_and_shoot_with_keeper","episode":367600,"rate":0.458},{"map":"academy_run_pass_and_shoot_with_keeper","episode":368900,"rate":0.515},{"map":"academy_run_pass_and_shoot_with_keeper","episode":370300,"rate":0.506}
      ]},
      "mark": {"type": "line", "strokeWidth": 2, "clip": true},
      "encoding": {
        "x": {"field": "episode", "type": "quantitative", "title": "Episode",
          "scale": {"domain": [0, 370500], "nice": false, "zero": false},
          "axis": {"values": [0, 50000, 100000, 150000, 200000, 250000, 300000, 350000], "labelExpr": "format(datum.value / 100000, '.1f')", "labelPadding": 15, "titlePadding": 4, "labelOverlap": false}},
        "y": {"field": "rate", "type": "quantitative", "title": "Mean Test Win Rate",
          "scale": {"domain": [-0.129, 0.627], "nice": false, "zero": false},
          "axis": {"values": [-0.1, 0, 0.1, 0.2, 0.3, 0.4, 0.5, 0.6], "labelExpr": "format(datum.value, '.1f')", "labelPadding": 14, "titlePadding": 8, "labelOverlap": false, "labelSeparation": 0}},
        "color": {"field": "map", "type": "nominal",
          "scale": {"domain": ["academy_3_vs_1_with_keeper", "academy_counterattack_easy", "academy_run_to_score_with_keeper", "academy_run_pass_and_shoot_with_keeper"], "range": ["#4C72B0", "#DD8452", "#55A868", "#C44E52"]},
          "legend": {"title": null, "orient": "none", "legendX": 10, "legendY": 3, "padding": 6, "fillColor": "rgba(234,234,242,0.8)", "labelFontSize": 12, "labelColor": "#262626", "labelFont": "DejaVu Sans", "labelLimit": 400, "symbolType": "M-3,0L3,0", "symbolSize": 81, "symbolStrokeWidth": 2, "labelOffset": 19, "rowPadding": 6}}
      }
    },
    {
      "data": {"values": [{"note": "×10⁵"}]},
      "mark": {"type": "text", "align": "right", "baseline": "middle", "fontSize": 14, "color": "#262626", "font": "DejaVu Sans"},
      "encoding": {
        "x": {"datum": 370500, "type": "quantitative"},
        "y": {"value": 304},
        "text": {"field": "note"}
      }
    }
  ]
}
